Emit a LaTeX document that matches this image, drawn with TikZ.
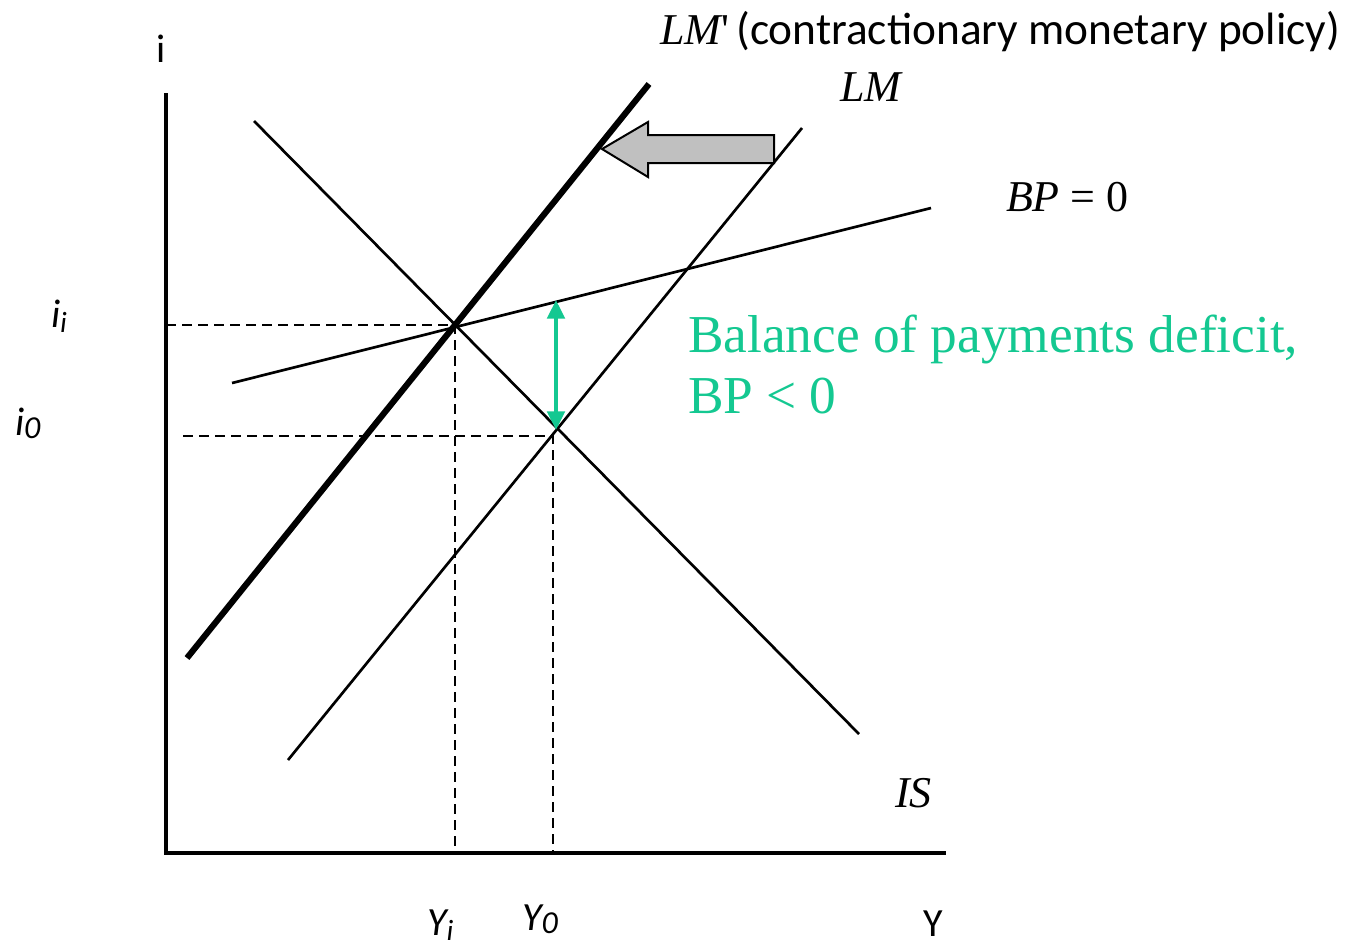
\documentclass[tikz,border=0pt]{standalone}
\usepackage{fontspec}
\usetikzlibrary{arrows.meta}
\setmainfont{Liberation Serif}
\newfontfamily\calfont{Carlito}
\definecolor{bpgreen}{RGB}{20,200,145}
\definecolor{arrgray}{RGB}{192,192,192}
\tikzset{
  axisline/.style={line width=2.4pt},
  curve/.style={line width=2pt},
  thickcurve/.style={line width=4.6pt},
  guide/.style={line width=2pt, dash pattern=on 7.5pt off 4.5pt},
  lbl/.style={anchor=base west, inner sep=0pt, outer sep=0pt},
  serif/.style={font=\fontsize{33}{38}\selectfont},
  sans/.style={font=\calfont\fontsize{30}{36}\selectfont},
  green/.style={text=bpgreen, font=\fontsize{40}{46}\selectfont}
}
\begin{document}
\begin{tikzpicture}[x=0.75pt,y=-0.75pt]
\useasboundingbox (0,0) rectangle (1351,946);
% axes
\coordinate (top) at (166,93);
\coordinate (orig) at (166,853);
\coordinate (right) at (946,853);
\draw[axisline] (top) -- (orig) -- (right);
% curves
\coordinate (IS1) at (254,121);
\coordinate (IS2) at (859,734);
\coordinate (LMp1) at (187,658);
\coordinate (LMp2) at (649,84);
\coordinate (LM1) at (288,760);
\coordinate (LM2) at (802,128);
\coordinate (BP1) at (232,383);
\coordinate (BP2) at (931,208);
\draw[curve] (IS1) -- (IS2);
\draw[curve] (LM1) -- (LM2);
\draw[curve] (BP1) -- (BP2);
\draw[thickcurve] (LMp1) -- (LMp2);
% equilibria
\coordinate (E1) at (455,325);
\coordinate (E0) at (553,436);
\coordinate (Ax1) at (166,325);
\coordinate (Ax0) at (183,436);
\coordinate (X1) at (455,853);
\coordinate (X0) at (553,853);
\draw[guide] (Ax1) -- (E1) -- (X1);
\draw[guide] (Ax0) -- (E0) -- (X0);
% green double arrow
\coordinate (GT) at (556,300);
\coordinate (GB) at (556,430);
\draw[bpgreen, line width=3pt, {Triangle[width=13pt,length=14pt]}-{Triangle[width=13pt,length=14pt]}] (GT) -- (GB);
% gray block arrow
\draw[line width=1.5pt, fill=arrgray, line join=miter]
  (774,135) -- (648,135) -- (648,122) -- (602,149) -- (648,177) -- (648,163) -- (774,163) -- cycle;
% labels
\node[lbl, serif] (lmp) at (660,44) {\itshape LM\upshape\textquotesingle\,\calfont\fontsize{34}{40}\selectfont(contractionary monetary policy)};
\node[lbl, serif] (lm) at (840,101) {\itshape LM};
\node[lbl, serif] (bp) at (1006,211) {\itshape BP\upshape\ = 0};
\node[lbl, serif] (is) at (895,807) {\itshape IS};
\node[lbl, green] (bal1) at (688,352) {Balance of payments deficit,};
\node[lbl, green] (bal2) at (688,413) {BP < 0};
\node[lbl, sans] (iax) at (156,62) {i};
\node[lbl, sans] (yax) at (923,936) {Y};
\node[lbl, sans] (ii) at (51,327) {\itshape i\raisebox{-0.3ex}{\fontsize{22}{26}\selectfont i}};
\node[lbl, sans] (i0) at (15,435) {\itshape i\raisebox{-0.2ex}{\fontsize{24}{26}\selectfont 0}};
\node[lbl, sans] (yi) at (427,935) {\itshape Y\raisebox{-0.3ex}{\fontsize{22}{26}\selectfont i}};
\node[lbl, sans] (y0) at (522,930) {\itshape Y\raisebox{-0.2ex}{\fontsize{24}{26}\selectfont 0}};
\end{tikzpicture}
\end{document}
